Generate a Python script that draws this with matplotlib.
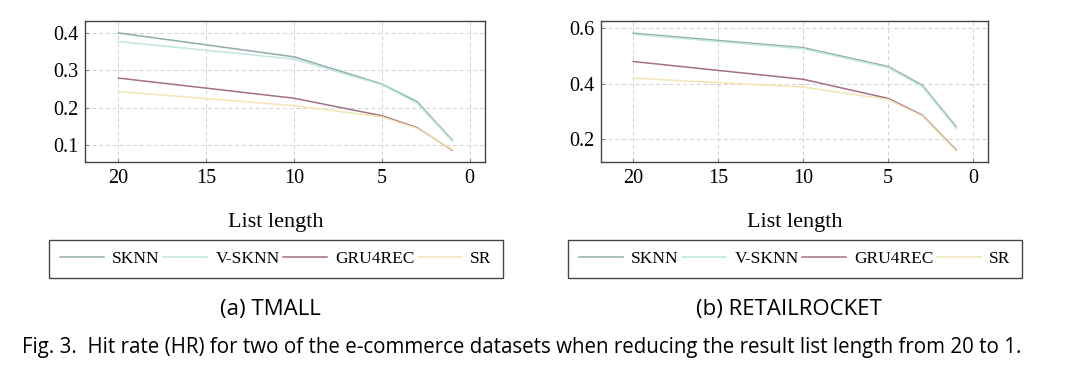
import matplotlib
matplotlib.use("Agg")
import matplotlib.pyplot as plt

# list lengths (x axis, reversed)
list_len = [20, 10, 5, 3, 1]
methods = ["SKNN", "V-SKNN", "GRU4REC", "SR"]
colors = ["#8fabab", "#bfe6df", "#a3707f", "#f2e6b0"]

# hit rate
tmall_sknn = [0.400, 0.336, 0.263, 0.216, 0.113]
tmall_vsknn = [0.377, 0.330, 0.261, 0.212, 0.110]
tmall_gru = [0.279, 0.225, 0.178, 0.146, 0.086]
tmall_sr = [0.243, 0.205, 0.175, 0.144, 0.088]

rr_sknn = [0.582, 0.530, 0.462, 0.395, 0.245]
rr_vsknn = [0.578, 0.526, 0.458, 0.390, 0.240]
rr_gru = [0.480, 0.416, 0.347, 0.287, 0.161]
rr_sr = [0.420, 0.388, 0.343, 0.284, 0.158]

panels = [
    ("(a) TMALL", [tmall_sknn, tmall_vsknn, tmall_gru, tmall_sr],
     [0.1, 0.2, 0.3, 0.4], (0.054, 0.432)),
    ("(b) RETAILROCKET", [rr_sknn, rr_vsknn, rr_gru, rr_sr],
     [0.2, 0.4, 0.6], (0.118, 0.626)),
]

W, H = 1080, 388
fig = plt.figure(figsize=(W / 100, H / 100), dpi=100)

serif = ["Liberation Serif", "DejaVu Serif"]
sans = ["Open Sans", "DejaVu Sans"]

# axes boxes in pixels: left, top, right, bottom
boxes = [(85, 21, 485, 162), (601, 21, 988, 162)]
legend_boxes = [(49, 240, 503, 278), (568, 240, 1022, 278)]
label_x = [276, 795]
sub_x = [270, 789]

for i, (title, series, yt, ylim) in enumerate(panels):
    l, t, r, b = boxes[i]
    ax = fig.add_axes([l / W, 1 - b / H, (r - l) / W, (b - t) / H])
    for vals, name, c in zip(series, methods, colors):
        ax.plot(list_len, vals, color=c, lw=1.1, label=name)
    ax.set_xlim(21.9, -0.87)
    ax.set_ylim(*ylim)
    ax.set_xticks([20, 15, 10, 5, 0])
    ax.set_yticks(yt)
    ax.set_yticklabels([f"{v:.1f}" for v in yt])
    ax.grid(True, ls=(0, (4, 3)), color="#d2d2d2", lw=0.7)
    ax.tick_params(direction="in", length=3, color="#888888", labelsize=14.5, pad=5)
    for lab in ax.get_xticklabels() + ax.get_yticklabels():
        lab.set_family(serif)
    for s in ax.spines.values():
        s.set_color("#444444")
        s.set_linewidth(1.0)

    fig.text(label_x[i] / W, 1 - 222 / H, "List length", ha="center", va="center",
             fontsize=16, family=serif)

    lx0, ly0, lx1, ly1 = legend_boxes[i]
    handles, labels = ax.get_legend_handles_labels()
    leg = fig.legend(handles, labels, loc="center", ncol=4, mode="expand",
                     bbox_to_anchor=(lx0 / W, 1 - ly1 / H, (lx1 - lx0) / W, (ly1 - ly0) / H),
                     fancybox=False, edgecolor="#444444", framealpha=1,
                     handlelength=2.5, handletextpad=0.5, columnspacing=0.4,
                     borderpad=0.65, borderaxespad=0,
                     prop={"family": serif, "size": 12.5})
    leg.get_frame().set_linewidth(1.0)

    fig.text(sub_x[i] / W, 1 - 310 / H, title, ha="center", va="center",
             fontsize=16, family=sans)

fig.text(22 / W, 1 - 348 / H,
         "Fig. 3.  Hit rate (HR) for two of the e-commerce datasets when reducing the result list length from 20 to 1.",
         ha="left", va="center", fontsize=14.8, family=sans)

fig.savefig("out.png", dpi=100)
